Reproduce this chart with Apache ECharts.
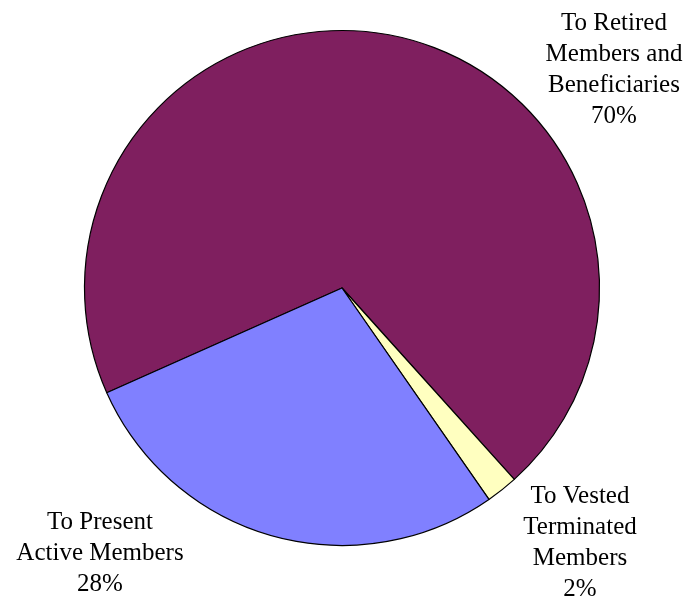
<!DOCTYPE html>
<html>
<head>
<meta charset="utf-8">
<script src="https://cdn.jsdelivr.net/npm/echarts@6/dist/echarts.min.js"></script>
<style>
  html, body { margin: 0; padding: 0; background: #ffffff; }
  #chart { width: 691px; height: 601px; }
</style>
</head>
<body>
<div id="chart"></div>
<script>
// Slice names and their shares (percent)
const categories = [
  'To Retired\nMembers and\nBeneficiaries',
  'To Vested\nTerminated\nMembers',
  'To Present\nActive Members'
];
const shares = [70, 2, 28];
const sliceColors = ['#7F1F5F', '#FFFFC0', '#8080FF'];

// Where each label block sits (centre of the text block)
const labelSpots = [
  { x: 614, y: 70 },
  { x: 580, y: 543 },
  { x: 100, y: 553 }
];

const chart = echarts.init(document.getElementById('chart'), null, { renderer: 'canvas' });

chart.setOption({
  backgroundColor: '#ffffff',
  animation: false,
  series: [{
    type: 'pie',
    center: [342, 288],
    radius: 257.5,
    startAngle: 204,
    clockwise: true,
    avoidLabelOverlap: false,
    silent: true,
    itemStyle: { borderColor: '#000000', borderWidth: 1.2 },
    label: {
      show: true,
      position: 'outside',
      formatter: p => p.name + '\n' + p.value + '%',
      fontFamily: '"Liberation Serif", "Times New Roman", serif',
      fontSize: 25,
      lineHeight: 31,
      color: '#000000',
      align: 'center'
    },
    labelLine: { show: false },
    labelLayout: p => ({
      x: labelSpots[p.dataIndex].x,
      y: labelSpots[p.dataIndex].y,
      align: 'center',
      verticalAlign: 'middle'
    }),
    data: categories.map((name, i) => ({
      name: name,
      value: shares[i],
      itemStyle: { color: sliceColors[i] }
    }))
  }]
});
</script>
</body>
</html>
